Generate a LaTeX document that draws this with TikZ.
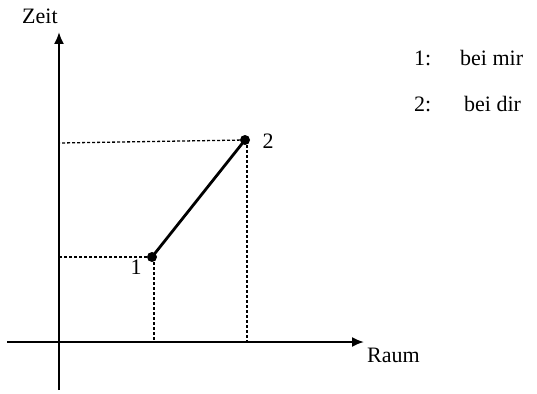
\documentclass[tikz,border=0pt]{standalone}
\usepackage{fontspec}
\setmainfont{Liberation Serif}
\usetikzlibrary{arrows.meta}
\begin{document}
\begin{tikzpicture}[x=1pt,y=-1pt,
  axis/.style={line width=1.9pt,-{Latex[length=12pt,width=10pt]}},
  guide/.style={line width=1.3pt,dash pattern=on 3pt off 2pt},
  seg/.style={line width=2.8pt},
  dot/.style={circle,fill=black,inner sep=0pt,minimum size=10pt},
  lbl/.style={font=\fontsize{22}{25}\selectfont,inner sep=0pt}]
\useasboundingbox (0,0) rectangle (537,393);
% axes
\coordinate (xs) at (7,342);
\coordinate (xe) at (364,342);
\coordinate (ys) at (59,390);
\coordinate (ye) at (59,32);
\draw[axis] (xs) -- (xe);
\draw[axis] (ys) -- (ye);
\node[lbl,anchor=base west] (zeit) at (22,24) {Zeit};
\node[lbl,anchor=base west] (raum) at (367,362) {Raum};
% points
\node[dot] (p1) at (152,257) {};
\node[dot] (p2) at (245,140) {};
\draw[guide] (p1.center) -- (p1.center -| ys);
\draw[guide] ([xshift=2pt]p1.center) -- ([xshift=2pt]p1.center |- xs);
\draw[guide] (p2.center) -- (59,143);
\draw[guide] ([xshift=2pt]p2.center) -- ([xshift=2pt]p2.center |- xs);
\draw[seg] (p1.center) -- (p2.center);
\node[lbl] (l1) at (136,267) {1};
\node[lbl] (l2) at (268,141) {2};
% legend
\node[lbl,anchor=base west] (k1) at (414,66) {1:};
\node[lbl,anchor=base west] (v1) at (460,66) {bei mir};
\node[lbl,anchor=base west] (k2) at (414,111) {2:};
\node[lbl,anchor=base west] (v2) at (464,111) {bei dir};
\end{tikzpicture}
\end{document}
